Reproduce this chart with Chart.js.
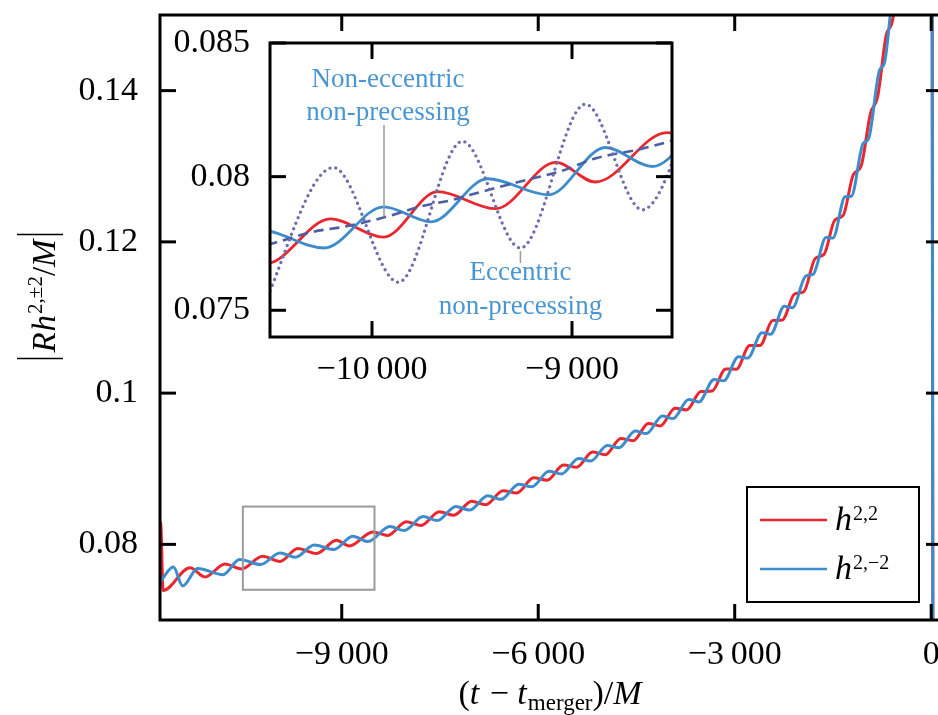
<!DOCTYPE html>
<html>
<head>
<meta charset="utf-8">
<title>Mode amplitudes</title>
<script src="https://cdn.jsdelivr.net/npm/chart.js@4.4.1/dist/chart.umd.min.js"></script>
<style>
  html, body { margin: 0; padding: 0; background: #fff; overflow: hidden; }
  #wrap { position: relative; width: 942px; height: 715px; }
  #mainChart { position: absolute; left: 0; top: 0; }
  #insetChart { position: absolute; left: 170px; top: 22px; }
</style>
</head>
<body>
<div id="wrap">
  <canvas id="mainChart" width="942" height="715"></canvas>
  <canvas id="insetChart" width="510" height="370"></canvas>
</div>
<script>
// |R h^{2,±2}/M| against (t - t_merger)/M, taken at crests and troughs
const redT = [-11775, -11762, -11728, -11317, -11088, -10783, -10530, -10208, -9942, -9672, -9382, -9082, -8883,
  -8525, -8296, -8015, -7788, -7510, -7289, -7018, -6802, -6538, -6327, -6070, -5865, -5614, -5414,
  -5170, -4976, -4738, -4549, -4318, -4135, -3911, -3734, -3517, -3346, -3137, -2973, -2772, -2614,
  -2422, -2272, -2088, -1945, -1771, -1636, -1471, -1344, -1189, -1071, -927, -819, -687, -590, -471,
  -300, -120, 0, 16, 28, 80, 165];
const redV = [0.0830, 0.0826, 0.0739, 0.0769, 0.0757, 0.0774, 0.07675, 0.07842, 0.07774, 0.07944, 0.0788, 0.08053, 0.0798,
  0.08165, 0.08118, 0.0830, 0.0825, 0.08432, 0.08384, 0.0857, 0.08525, 0.0871, 0.08679, 0.0888, 0.08848, 0.0905, 0.0902,
  0.0922, 0.09186, 0.0940, 0.09371, 0.0960, 0.09566, 0.0980, 0.09778, 0.1002, 0.10027, 0.1032, 0.10317, 0.1063, 0.1063,
  0.1096, 0.10968, 0.1131, 0.11341, 0.1178, 0.11835, 0.1229, 0.1235, 0.1289, 0.13002, 0.1370, 0.13914, 0.1473, 0.1493, 0.158,
  0.19, 0.26, 0.36, 0.14, 0.05, 0.01, 0.005];

const blueT = [-11775, -11571, -11428, -11200, -10813, -10560, -10240, -9942, -9705, -9422, -9118, -8833,
  -8598, -8266, -8045, -7758, -7540, -7259, -7048, -6772, -6568, -6297, -6100, -5835, -5644, -5384,
  -5200, -4946, -4768, -4519, -4348, -4105, -3941, -3704, -3547, -3316, -3167, -2943, -2802, -2584,
  -2452, -2242, -2118, -1915, -1801, -1606, -1501, -1314, -1219, -1041, -957, -789, -717, -560, -501,
  -300, -120, 0, 16, 28, 80, 165];
const blueV = [0.0750, 0.0770, 0.0745, 0.0768, 0.0760, 0.0780, 0.07733, 0.07887, 0.07831, 0.07992, 0.07932, 0.08109,
  0.08038, 0.08236, 0.08183, 0.08368, 0.08315, 0.08502, 0.08453, 0.08642, 0.08596, 0.08796, 0.08761, 0.08966, 0.08932, 0.09137,
  0.09101, 0.09309, 0.09277, 0.09499, 0.09465, 0.09698, 0.09663, 0.09916, 0.09884, 0.10179, 0.10165, 0.1048, 0.10464, 0.10798,
  0.10779, 0.11148, 0.1113, 0.11548, 0.11572, 0.12058, 0.1205, 0.12597, 0.12604, 0.13298, 0.13362, 0.1427, 0.14354, 0.1532, 0.153,
  0.19, 0.26, 0.36, 0.145, 0.055, 0.012, 0.006];

// comparison runs, only drawn in the zoomed panel
const nonEccT = [-10600, -10494, -10292, -10142, -9922, -9758, -9592, -9508, -9258, -9058, -8876, -8675, -8508, -8400];
const nonEccV = [0.0773, 0.07751, 0.07794, 0.07812, 0.07851, 0.07888, 0.07914, 0.07932, 0.07982, 0.0802, 0.0807, 0.0810, 0.08133, 0.0816];
const eccT = [-10580, -10193, -9868, -9548, -9258, -8933, -8648, -8330];
const eccV = [0.0745, 0.08034, 0.07605, 0.08132, 0.07733, 0.08271, 0.07876, 0.0840];

// axes
const mainXRange = [-11775, 165];
const mainYRange = [0.07, 0.15];
const mainXTicks = [-9000, -6000, -3000, 0];
const mainXLabels = ["\u22129\u2009000", "\u22126\u2009000", "\u22123\u2009000", "0"];
const mainYTicks = [0.08, 0.1, 0.12, 0.14];
const mainYLabels = ["0.08", "0.1", "0.12", "0.14"];

const insetXRange = [-10510, -8500];
const insetYRange = [0.074, 0.085];
const insetXTicks = [-10000, -9000];
const insetXLabels = ["\u221210\u2009000", "\u22129\u2009000"];
const insetYTicks = [0.075, 0.08, 0.085];
const insetYLabels = ["0.075", "0.08", "0.085"];

// where the two leader lines touch their curves
const nonEccNote = [-9940, 0.0785];
const eccNote = [-9258, 0.07733];

const RED = "#e8272e";
const BLUE = "#3d8ccc";
const NONECC = "#4a5fa4";
const ECC = "#6e6eae";
const NOTE = "#4b96d2";
const GREY = "#9a9a9a";
const SERIF = '"Liberation Serif", "Times New Roman", serif';

function font(size, style) {
  return (style ? style + " " : "") + size + "px " + SERIF;
}

function points(ts, vs) {
  return ts.map((t, i) => ({ x: t, y: vs[i] }));
}

function line(ctx, x1, y1, x2, y2) {
  ctx.beginPath();
  ctx.moveTo(x1, y1);
  ctx.lineTo(x2, y2);
  ctx.stroke();
}

// pieces of mixed italic / upright / raised text
function runWidth(ctx, parts) {
  let w = 0;
  parts.forEach(p => {
    ctx.font = p.font;
    w += ctx.measureText(p.text).width + (p.gap || 0);
  });
  return w;
}

function drawRun(ctx, parts, x, y) {
  parts.forEach(p => {
    ctx.font = p.font;
    ctx.fillText(p.text, x, y + (p.dy || 0));
    x += ctx.measureText(p.text).width + (p.gap || 0);
  });
  return x;
}

function axis(range, ticks, labels, pad, fit) {
  return {
    type: "linear",
    min: range[0],
    max: range[1],
    grid: { display: false },
    border: { display: false },
    afterBuildTicks: s => { s.ticks = ticks.map(v => ({ value: v })); },
    afterFit: fit,
    ticks: {
      autoSkip: false,
      maxRotation: 0,
      padding: pad,
      color: "#000",
      font: { family: SERIF, size: 34 },
      callback: (v, i) => labels[i]
    }
  };
}

// black box round the plot area with inward ticks on every side
const framePlugin = {
  id: "frame",
  beforeDraw(chart, args, opts) {
    if (!opts.fill) return;
    const a = chart.chartArea;
    chart.ctx.save();
    chart.ctx.fillStyle = "#fff";
    chart.ctx.fillRect(a.left, a.top, a.right - a.left, a.bottom - a.top);
    chart.ctx.restore();
  },
  afterDraw(chart, args, opts) {
    const { ctx, chartArea: a, scales: { x, y } } = chart;
    const len = opts.tick || 16;
    ctx.save();
    ctx.strokeStyle = "#000";
    ctx.lineWidth = 3;
    ctx.strokeRect(a.left, a.top, a.right - a.left, a.bottom - a.top);
    x.ticks.forEach(t => {
      const px = x.getPixelForValue(t.value);
      line(ctx, px, a.bottom, px, a.bottom - len);
      line(ctx, px, a.top, px, a.top + len);
    });
    y.ticks.forEach(t => {
      const py = y.getPixelForValue(t.value);
      line(ctx, a.left, py, a.left + len, py);
      line(ctx, a.right, py, a.right - len, py);
    });
    ctx.restore();
  }
};

// zoom window, legend and axis titles of the big panel
const mainExtras = {
  id: "mainExtras",
  afterDraw(chart) {
    const { ctx, scales: { x, y } } = chart;
    ctx.save();

    const x0 = x.getPixelForValue(insetXRange[0]);
    const x1 = x.getPixelForValue(insetXRange[1]);
    const y0 = y.getPixelForValue(insetYRange[1]);
    const y1 = y.getPixelForValue(insetYRange[0]);
    ctx.strokeStyle = GREY;
    ctx.lineWidth = 2;
    ctx.strokeRect(x0, y0, x1 - x0, y1 - y0);

    // legend
    ctx.fillStyle = "#fff";
    ctx.fillRect(747, 487, 172, 115);
    ctx.strokeStyle = "#000";
    ctx.lineWidth = 2;
    ctx.strokeRect(747, 487, 172, 115);
    const entries = [
      { ds: chart.data.datasets[0], y: 520, sup: "2,2" },
      { ds: chart.data.datasets[1], y: 569, sup: "2,\u22122" }
    ];
    ctx.fillStyle = "#000";
    ctx.textBaseline = "alphabetic";
    ctx.textAlign = "left";
    entries.forEach(e => {
      ctx.strokeStyle = e.ds.borderColor;
      ctx.lineWidth = 2.5;
      line(ctx, 760, e.y, 827, e.y);
      drawRun(ctx, [
        { text: "h", font: font(34, "italic"), gap: 1 },
        { text: e.sup, font: font(20), dy: -10 }
      ], 835, e.y + 10);
    });

    // x title
    const xt = [
      { text: "(", font: font(34) },
      { text: "t", font: font(34, "italic"), gap: 2 },
      { text: " \u2212 ", font: font(34) },
      { text: "t", font: font(34, "italic"), gap: 1 },
      { text: "merger", font: font(23), dy: 6 },
      { text: ")/", font: font(34) },
      { text: "M", font: font(34, "italic") }
    ];
    drawRun(ctx, xt, 550 - runWidth(ctx, xt) / 2, 704);

    // y title, turned to read upwards
    const yt = [
      { text: "R", font: font(33, "italic"), gap: 1 },
      { text: "h", font: font(33, "italic"), gap: 1 },
      { text: "2,\u00b12", font: font(21), dy: -13 },
      { text: "/", font: font(33) },
      { text: "M", font: font(33, "italic") }
    ];
    ctx.translate(55, 296);
    ctx.rotate(-Math.PI / 2);
    const w = runWidth(ctx, yt);
    const end = drawRun(ctx, yt, -w / 2, 0);
    ctx.strokeStyle = "#000";
    ctx.lineWidth = 1.6;
    line(ctx, -w / 2 - 6, -38, -w / 2 - 6, 8);
    line(ctx, end + 5, -38, end + 5, 8);

    ctx.restore();
  }
};

// labels and leader lines of the zoomed panel
const insetNotes = {
  id: "insetNotes",
  afterDraw(chart) {
    const { ctx, scales: { x, y } } = chart;
    ctx.save();
    const ax = x.getPixelForValue(nonEccNote[0]);
    const ay = y.getPixelForValue(nonEccNote[1]);
    const bx = x.getPixelForValue(eccNote[0]);
    const by = y.getPixelForValue(eccNote[1]);
    ctx.strokeStyle = GREY;
    ctx.lineWidth = 1.5;
    line(ctx, ax, ay, ax, 103);
    line(ctx, bx, by + 3, bx, 241);
    ctx.fillStyle = NOTE;
    ctx.font = font(27);
    ctx.textAlign = "center";
    ctx.textBaseline = "middle";
    ctx.fillText("Non-eccentric", ax + 4, 58);
    ctx.fillText("non-precessing", ax + 4, 91);
    ctx.fillText("Eccentric", bx, 251);
    ctx.fillText("non-precessing", bx, 285);
    ctx.restore();
  }
};

const common = {
  responsive: false,
  animation: false,
  events: [],
  plugins: { legend: { display: false }, tooltip: { enabled: false } },
  elements: {
    point: { radius: 0 },
    line: { cubicInterpolationMode: "monotone", fill: false }
  }
};

new Chart(document.getElementById("mainChart"), {
  type: "line",
  data: {
    datasets: [
      { label: "h2,2", data: points(redT, redV), borderColor: RED, borderWidth: 3, order: 2 },
      { label: "h2,-2", data: points(blueT, blueV), borderColor: BLUE, borderWidth: 3, order: 1 }
    ]
  },
  options: {
    ...common,
    layout: { padding: { top: 15, left: 0, right: 0, bottom: 0 } },
    plugins: { ...common.plugins, frame: { tick: 16 } },
    scales: {
      x: axis(mainXRange, mainXTicks, mainXLabels, 7, s => {
        s.height = 95; s.paddingLeft = 0; s.paddingRight = 0;
      }),
      y: axis(mainYRange, mainYTicks, mainYLabels, 14, s => {
        s.width = 160; s.paddingTop = 0; s.paddingBottom = 0;
      })
    }
  },
  plugins: [framePlugin, mainExtras]
});

new Chart(document.getElementById("insetChart"), {
  type: "line",
  data: {
    datasets: [
      { data: points(redT, redV), borderColor: RED, borderWidth: 2.8, order: 4 },
      { data: points(blueT, blueV), borderColor: BLUE, borderWidth: 2.8, order: 3 },
      { data: points(nonEccT, nonEccV), borderColor: NONECC, borderWidth: 2.6, borderDash: [10, 6], order: 2 },
      { data: points(eccT, eccV), borderColor: ECC, borderWidth: 3.4, borderDash: [0, 6], borderCapStyle: "round", order: 1 }
    ]
  },
  options: {
    ...common,
    layout: { padding: { top: 21, left: 0, right: 8, bottom: 0 } },
    plugins: { ...common.plugins, frame: { tick: 16, fill: true } },
    scales: {
      x: axis(insetXRange, insetXTicks, insetXLabels, 5, s => {
        s.height = 55; s.paddingLeft = 0; s.paddingRight = 0;
      }),
      y: axis(insetYRange, insetYTicks, insetYLabels, 12, s => {
        s.width = 100; s.paddingTop = 0; s.paddingBottom = 0;
      })
    }
  },
  plugins: [framePlugin, insetNotes]
});
</script>
</body>
</html>
